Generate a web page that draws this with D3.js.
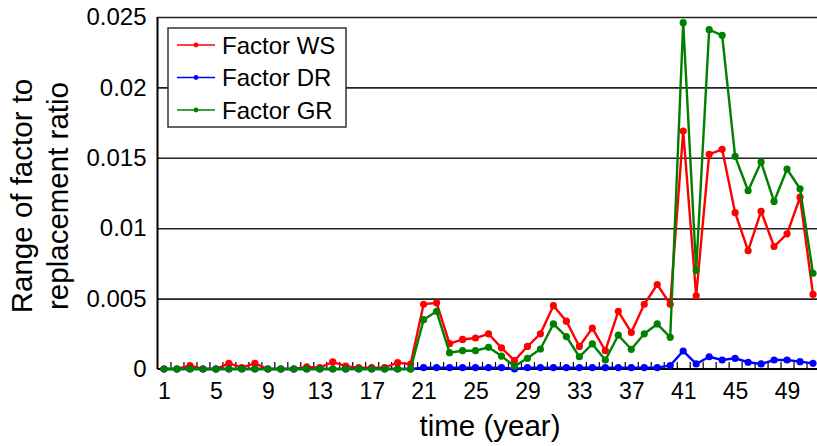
<!DOCTYPE html>
<html>
<head>
<meta charset="utf-8">
<script src="https://cdn.jsdelivr.net/npm/d3@7"></script>
<style>
    body { margin: 0; background: white; }
    text { font-family: "Liberation Sans", Arial, sans-serif; fill: black; }
</style>
</head>
<body>
<div id="svg"></div>
<script>
const years = [1, 2, 3, 4, 5, 6, 7, 8, 9, 10, 11, 12, 13, 14, 15, 16, 17, 18, 19, 20,
               21, 22, 23, 24, 25, 26, 27, 28, 29, 30, 31, 32, 33, 34, 35, 36, 37, 38, 39, 40,
               41, 42, 43, 44, 45, 46, 47, 48, 49, 50, 51];

const factorWS = [0, 0, 0.00025, 0, 0, 0.0004, 0.0001, 0.0004, 0, 0,
                  0, 0.00015, 0.0001, 0.0005, 0.0002, 0.0001, 0.0001, 0.0001, 0.00045, 0.00035,
                  0.0046, 0.0047, 0.0018, 0.0021, 0.0022, 0.0025, 0.0015, 0.0006, 0.0016, 0.0025,
                  0.0045, 0.0034, 0.0016, 0.0029, 0.0013, 0.0041, 0.0026, 0.0046, 0.006, 0.0046,
                  0.0169, 0.0052, 0.01525, 0.0156, 0.0111, 0.0084, 0.0112, 0.0087, 0.0096, 0.0122, 0.0053];

const factorDR = [0, 0, 0, 0, 0, 0, 0, 0, 0, 0,
                  0, 0, 0, 0, 0, 0, 0, 0, 0, 0,
                  0.0001, 0.0001, 0.0001, 0.0001, 0.0001, 0.0001, 0.0001, 0, 0.0001, 0.0001,
                  0.0001, 0.0001, 0.0001, 0.0001, 0.0001, 0.0001, 0.0001, 0.0001, 0.0001, 0.00025,
                  0.00128, 0.00036, 0.00087, 0.00064, 0.00076, 0.00048, 0.00036, 0.00064, 0.00064, 0.00052, 0.0004];

const factorGR = [0, 0, 0, 0, 0, 0, 0, 0, 0, 0,
                  0, 0, 0, 0, 0, 0, 0, 0, 0, 0,
                  0.0035, 0.0041, 0.00116, 0.0013, 0.0013, 0.00154, 0.00092, 0.0002, 0.00076, 0.00142,
                  0.0032, 0.0023, 0.00087, 0.00178, 0.00064, 0.0024, 0.0014, 0.0025, 0.0032, 0.00225,
                  0.0246, 0.007, 0.0241, 0.0237, 0.0151, 0.01266, 0.0147, 0.0119, 0.0142, 0.0128, 0.0068];

const seriesNames = ["Factor WS", "Factor DR", "Factor GR"];
const seriesColours = ["#ff0000", "#0000ff", "#008000"];
const xTickLabels = [1, 5, 9, 13, 17, 21, 25, 29, 33, 37, 41, 45, 49];
const yTickValues = [0, 0.005, 0.01, 0.015, 0.02, 0.025];

window.onload = function() {
    const width = 817;
    const height = 446;
    const left = 157.5, right = 819.5, top = 17, bottom = 369;

    const series = [factorWS, factorDR, factorGR].map((vals, i) => ({
        name: seriesNames[i],
        colour: seriesColours[i],
        points: years.map((yr, j) => ({year: yr, value: vals[j]}))
    }));

    const xScale = d3.scaleLinear()
                        .domain([0.5, 51.5])
                        .range([left, right]);

    const yScale = d3.scaleLinear()
                        .domain([0, 0.025])
                        .range([bottom, top]);

    let svg = d3.select('#svg')
                    .append('svg')
                        .attr('width', width)
                        .attr('height', height);

    // gridlines
    svg.append('g')
        .attr('transform', `translate(${left}, 0)`)
        .call(d3.axisLeft(yScale).tickValues(yTickValues.slice(1)).tickSize(-(right - left)).tickFormat(''))
        .call(g => g.select('.domain').remove())
        .selectAll('line')
            .attr('stroke', '#222')
            .attr('stroke-width', 1.6);

    // y tick labels
    svg.append('g')
        .attr('transform', `translate(${left}, 0)`)
        .call(d3.axisLeft(yScale).tickValues(yTickValues).tickSize(0).tickPadding(11)
                .tickFormat(d => d === 0 ? '0' : String(+d.toFixed(3))))
        .call(g => g.select('.domain').remove())
        .selectAll('text')
            .attr('font-size', 24)
            .attr('font-family', '"Liberation Sans", Arial, sans-serif');

    // x minor ticks (between years, pointing up)
    const minor = [];
    for (let i = 1; i <= 51; i++) minor.push(i + 0.5);
    svg.append('g')
        .attr('transform', `translate(0, ${bottom})`)
        .call(d3.axisBottom(xScale).tickValues(minor).tickSize(-7).tickFormat(''))
        .call(g => g.select('.domain').remove())
        .selectAll('line')
            .attr('stroke', '#000')
            .attr('stroke-width', 1.2);

    // x tick labels
    svg.append('g')
        .attr('transform', `translate(0, ${bottom})`)
        .call(d3.axisBottom(xScale).tickValues(xTickLabels).tickSize(0).tickPadding(14))
        .call(g => g.select('.domain').remove())
        .selectAll('text')
            .attr('font-size', 23)
            .attr('font-family', '"Liberation Sans", Arial, sans-serif');

    // frame
    svg.append('line')
        .attr('x1', left).attr('x2', left)
        .attr('y1', top).attr('y2', bottom)
        .attr('stroke', '#000').attr('stroke-width', 2);
    svg.append('line')
        .attr('x1', left).attr('x2', right)
        .attr('y1', bottom).attr('y2', bottom)
        .attr('stroke', '#000').attr('stroke-width', 2);

    const line = d3.line()
                    .x(d => xScale(d.year))
                    .y(d => yScale(d.value));

    let groups = svg.selectAll('.series')
        .data(series)
        .enter()
            .append('g')
                .attr('class', 'series');

    groups.append('path')
        .attr('d', d => line(d.points))
        .attr('fill', 'none')
        .attr('stroke', d => d.colour)
        .attr('stroke-width', 2.4);

    groups.each(function(s) {
        d3.select(this).selectAll('circle')
            .data(s.points)
            .enter()
                .append('circle')
                    .attr('cx', d => xScale(d.year))
                    .attr('cy', d => yScale(d.value))
                    .attr('r', 3.6)
                    .attr('fill', s.colour);
    });

    // legend
    let legend = svg.append('g');
    legend.append('rect')
        .attr('x', 168).attr('y', 28)
        .attr('width', 178).attr('height', 99)
        .attr('fill', 'white')
        .attr('stroke', '#333')
        .attr('stroke-width', 1.5);

    const rowY = [45, 77.5, 110];
    series.forEach((s, i) => {
        legend.append('line')
            .attr('x1', 177).attr('x2', 215)
            .attr('y1', rowY[i]).attr('y2', rowY[i])
            .attr('stroke', s.colour).attr('stroke-width', 1.6);
        legend.append('circle')
            .attr('cx', 196).attr('cy', rowY[i]).attr('r', 2.4)
            .attr('fill', s.colour);
        legend.append('text')
            .attr('x', 222).attr('y', rowY[i])
            .attr('dy', '0.36em')
            .attr('font-size', 24)
            .text(s.name);
    });

    // axis titles
    svg.append('text')
        .attr('text-anchor', 'middle')
        .attr('x', 490)
        .attr('y', 436)
        .attr('font-size', 29.5)
        .text('time (year)');

    svg.append('text')
        .attr('text-anchor', 'middle')
        .attr('transform', 'translate(31.5, 196) rotate(-90)')
        .attr('font-size', 29.5)
        .text('Range of factor to');

    svg.append('text')
        .attr('text-anchor', 'middle')
        .attr('transform', 'translate(67.5, 196) rotate(-90)')
        .attr('font-size', 29.5)
        .text('replacement ratio');
};
</script>
</body>
</html>
